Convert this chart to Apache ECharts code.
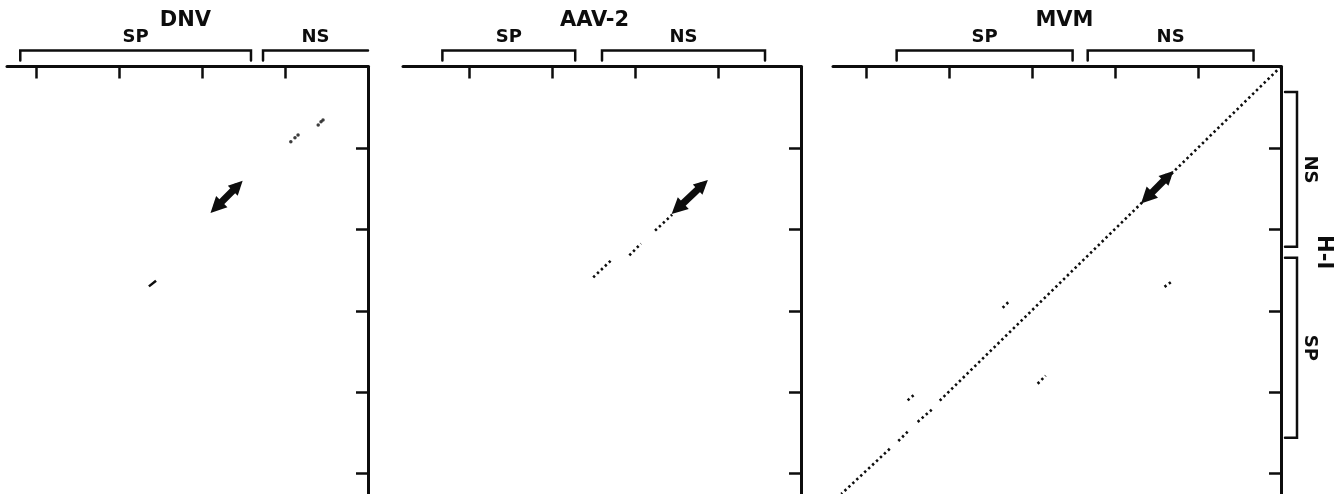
<!DOCTYPE html>
<html>
<head>
<meta charset="utf-8">
<script src="https://cdn.jsdelivr.net/npm/echarts@6.0.0/dist/echarts.min.js"></script>
<style>
  html, body { margin: 0; background: #fff; }
  #dotplot-chart { width: 1341px; height: 494px; }
</style>
</head>
<body>
<div id="dotplot-chart"></div>
<script>
// all positions in kb, counted from the top-right corner of each panel
const panelNames = ['DNV', 'AAV-2', 'MVM'];
const panelLengths = [4.35, 4.8, 5.4];
const h1Length = 5.25;
const titleAt = [2.2, 2.49, 2.61];

const dnvXTicks = [1, 2, 3, 4];
const aavXTicks = [1, 2, 3, 4];
const mvmXTicks = [1, 2, 3, 4, 5];
const h1YTicks = [1, 2, 3, 4, 5];

// SP / NS regions along each virus genome
const dnvRegions = [{label: 'SP', from: 4.19, to: 1.41, closed: true}, {label: 'NS', from: 1.265, to: 0, closed: false}];
const aavRegions = [{label: 'SP', from: 4.325, to: 2.723, closed: true}, {label: 'NS', from: 2.40, to: 0.434, closed: true}];
const mvmRegions = [{label: 'SP', from: 4.633, to: 2.512, closed: true}, {label: 'NS', from: 2.33, to: 0.331, closed: true}];
const h1Regions = [{label: 'NS', from: 0.313, to: 2.215}, {label: 'SP', from: 2.35, to: 4.558}];
const h1LabelAt = 2.28;

// matches
const dnvDots = [[0.93, 0.925], [0.88, 0.876], [0.843, 0.84], [0.60, 0.717], [0.566, 0.68], [0.542, 0.656]];
const dnvDashes = [[[2.64, 2.70], [2.554, 2.63]]];
const dnvRuns = [];
const aavDots = [];
const aavDashes = [];
const aavRuns = [[[1.76, 2.016], [1.554, 1.82]], [[2.07, 2.32], [1.93, 2.175]], [[2.506, 2.59], [2.29, 2.38]]];
const mvmDots = [];
const mvmDashes = [];
const mvmRuns = [
  [[0, 0], [4.139, 4.129]], [[4.21, 4.215], [4.39, 4.374]], [[4.5, 4.485], [4.633, 4.62]], [[4.716, 4.695], [5.3, 5.25]],
  [[3.355, 2.963], [3.283, 2.89]], [[2.933, 3.896], [2.837, 3.797]], [[4.5, 4.10], [4.404, 4.015]], [[1.404, 2.706], [1.307, 2.632]]
];

// double-headed arrows (centres of the two heads)
const dnvArrow = [[1.83, 1.73], [1.57, 1.465]];
const aavArrow = [[1.49, 1.745], [1.185, 1.453]];
const mvmArrow = [[1.619, 1.613], [1.357, 1.344]];

const ink = '#0d0d0d';
const chart = echarts.init(document.getElementById('dotplot-chart'));

const grids = [
  {left: 7, top: 66.5, width: 361, height: 428},
  {left: 403, top: 66.5, width: 398, height: 428},
  {left: 833, top: 66.5, width: 448, height: 428}
];
const xTicks = [dnvXTicks, aavXTicks, mvmXTicks];
const dots = [dnvDots, aavDots, mvmDots];
const dashes = [dnvDashes, aavDashes, mvmDashes];
const runs = [dnvRuns, aavRuns, mvmRuns];
const arrows = [dnvArrow, aavArrow, mvmArrow];

const xAxes = grids.map((g, i) => ({
  gridIndex: i, type: 'value', position: 'top', inverse: true,
  min: 0, max: panelLengths[i], interval: 1,
  axisLine: {onZero: false, lineStyle: {color: ink, width: 3}},
  axisTick: {inside: true, length: 12, customValues: xTicks[i], lineStyle: {color: ink, width: 2.5}},
  axisLabel: {show: false}, splitLine: {show: false}
}));
const yAxes = grids.map((g, i) => ({
  gridIndex: i, type: 'value', position: 'right', inverse: true,
  min: 0, max: h1Length, interval: 1,
  axisLine: {onZero: false, lineStyle: {color: ink, width: 3}},
  axisTick: {inside: true, length: 12, customValues: h1YTicks, lineStyle: {color: ink, width: 2.5}},
  axisLabel: {show: false}, splitLine: {show: false}
}));

const series = [];
grids.forEach((g, i) => {
  series.push({
    type: 'lines', coordinateSystem: 'cartesian2d', xAxisIndex: i, yAxisIndex: i,
    silent: true, symbol: 'none',
    lineStyle: {color: ink, width: 2.6, type: [2.4, 3], opacity: 1},
    data: runs[i].map(c => ({coords: c}))
  });
  series.push({
    type: 'lines', coordinateSystem: 'cartesian2d', xAxisIndex: i, yAxisIndex: i,
    silent: true, symbol: 'none',
    lineStyle: {color: ink, width: 2.5, opacity: 1},
    data: dashes[i].map(c => ({coords: c}))
  });
  series.push({
    type: 'scatter', xAxisIndex: i, yAxisIndex: i, silent: true,
    symbolSize: 3.5, itemStyle: {color: ink},
    data: dots[i]
  });
  series.push({
    type: 'lines', coordinateSystem: 'cartesian2d', xAxisIndex: i, yAxisIndex: i,
    silent: true, symbol: ['triangle', 'triangle'], symbolSize: [16, 14],
    lineStyle: {color: ink, width: 7, opacity: 1},
    data: [{coords: arrows[i]}]
  });
});

chart.setOption({
  animation: false,
  backgroundColor: '#fff',
  grid: grids,
  xAxis: xAxes,
  yAxis: yAxes,
  series: series
});

// brackets and labels around the axes
const regions = [dnvRegions, aavRegions, mvmRegions];
const gfx = [];
const labelFont = 'bold 18px "DejaVu Sans"';
const titleFont = 'bold 21px "DejaVu Sans"';
function txt(text, x, y, font, rot) {
  gfx.push({
    type: 'text', x: x, y: y, rotation: rot || 0, silent: true,
    style: {text: text, x: 0, y: 0, fill: ink, font: font, align: 'center', verticalAlign: 'middle',
            textAlign: 'center', textVerticalAlign: 'middle'}
  });
}
function line(points) {
  gfx.push({
    type: 'polyline', silent: true,
    shape: {points: points},
    style: {stroke: ink, lineWidth: 2.5, fill: null, lineCap: 'round', lineJoin: 'miter'}
  });
}

grids.forEach((g, i) => {
  const axisY = chart.convertToPixel({yAxisIndex: i}, 0);
  regions[i].forEach(r => {
    const x1 = chart.convertToPixel({xAxisIndex: i}, r.from);
    const x2 = chart.convertToPixel({xAxisIndex: i}, r.to);
    const pts = [[x1, axisY - 6], [x1, axisY - 16], [x2, axisY - 16]];
    if (r.closed) pts.push([x2, axisY - 6]);
    line(pts);
    txt(r.label, (x1 + x2) / 2, axisY - 29, labelFont);
  });
  txt(panelNames[i], chart.convertToPixel({xAxisIndex: i}, titleAt[i]), axisY - 45.5, titleFont);
});

const axisX = chart.convertToPixel({xAxisIndex: 2}, 0);
h1Regions.forEach(r => {
  const y1 = chart.convertToPixel({yAxisIndex: 2}, r.from);
  const y2 = chart.convertToPixel({yAxisIndex: 2}, r.to);
  line([[axisX + 4, y1], [axisX + 16, y1], [axisX + 16, y2], [axisX + 4, y2]]);
  txt(r.label, axisX + 29, (y1 + y2) / 2, labelFont, -Math.PI / 2);
});
txt('H-I', axisX + 42, chart.convertToPixel({yAxisIndex: 2}, h1LabelAt), 'bold 21px "DejaVu Sans"', -Math.PI / 2);

chart.setOption({graphic: gfx});
window.onresize = chart.resize;
</script>
</body>
</html>
